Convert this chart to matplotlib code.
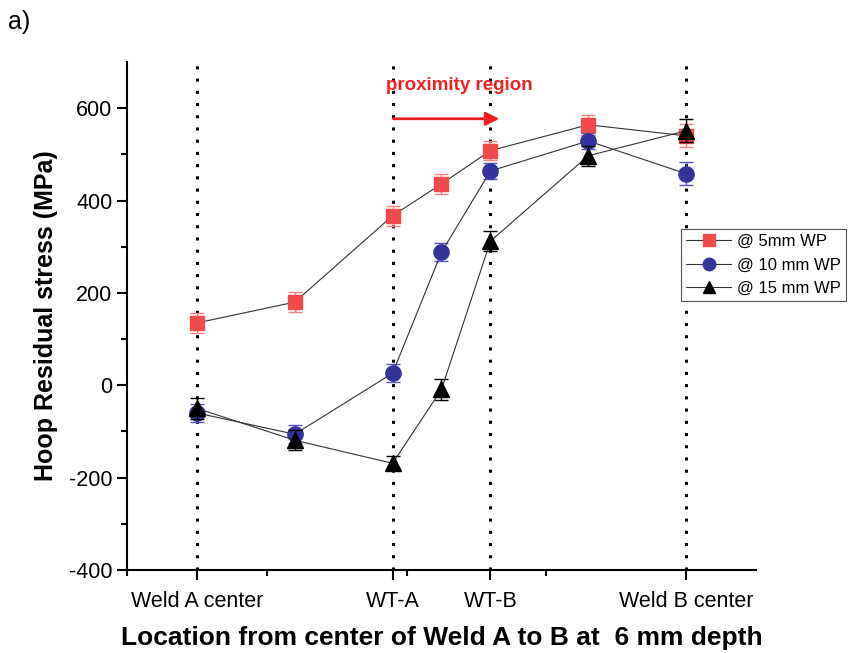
import matplotlib.pyplot as plt
from matplotlib.lines import Line2D
import numpy as np

plt.rcParams['font.family'] = ['Liberation Sans', 'DejaVu Sans']
plt.rcParams['axes.unicode_minus'] = False

# positions along the path from Weld A to Weld B
x = [0, 1, 2, 2.5, 3, 4, 5]
tick_pos = [0, 2, 3, 5]
tick_labels = ['Weld A center', 'WT-A', 'WT-B', 'Weld B center']

wp5 = [135, 180, 367, 436, 508, 564, 540]
wp5_err = [22, 22, 22, 22, 20, 22, 25]
wp10 = [-60, -106, 26, 288, 464, 529, 458]
wp10_err = [20, 20, 20, 20, 18, 18, 25]
wp15 = [-50, -119, -169, -9, 312, 497, 551]
wp15_err = [22, 22, 15, 22, 22, 22, 25]

red = '#f04a4a'
blue = '#33339a'

fig = plt.figure(figsize=(8.51, 6.53), dpi=100)
ax = fig.add_axes([0.1492, 0.1271, 0.7392, 0.778])

# vertical dotted reference lines
for p in tick_pos:
    ax.axvline(p, color='black', linestyle=(0, (1, 3)), linewidth=2.2, zorder=1)

ax.errorbar(x, wp5, yerr=wp5_err, marker='s', markersize=10, color='#333333',
            mfc=red, mec=red, ecolor='#f58080', elinewidth=1, capsize=5,
            linewidth=0.8, zorder=3)
ax.errorbar(x, wp10, yerr=wp10_err, marker='o', markersize=11, color='#333333',
            mfc=blue, mec=blue, ecolor='#5555bb', elinewidth=1, capsize=5,
            linewidth=0.8, zorder=3)
ax.errorbar(x, wp15, yerr=wp15_err, marker='^', markersize=11, color='#333333',
            mfc='black', mec='black', ecolor='black', elinewidth=1, capsize=5,
            linewidth=0.8, zorder=4)

# proximity region arrow and label
ax.annotate('', xy=(3.12, 577), xytext=(1.98, 577),
            arrowprops=dict(arrowstyle='-|>', color='#ee2222', lw=2,
                            mutation_scale=20))
ax.text(2.68, 650, 'proximity region', color='#ee2222', fontsize=13.5,
        fontweight='bold', ha='center', va='center')

ax.set_xlim(-5 / 7, 5 + 5 / 7)
ax.set_ylim(-400, 700)
ax.set_xticks(tick_pos)
ax.set_xticklabels(tick_labels, fontsize=15.5)
ax.set_xticks([-5 / 7 + k * 10 / 7 for k in range(5)], minor=True)
ax.set_yticks([-400, -200, 0, 200, 400, 600])
ax.set_yticks(np.arange(-300, 700, 200), minor=True)
ax.tick_params(axis='y', labelsize=15.5)
ax.tick_params(which='major', length=7, width=1.5, direction='out')
ax.tick_params(which='minor', length=4, width=1.5, direction='out')
ax.tick_params(axis='x', pad=8)

for s in ['top', 'right']:
    ax.spines[s].set_visible(False)
for s in ['left', 'bottom']:
    ax.spines[s].set_linewidth(1.5)

ax.set_ylabel('Hoop Residual stress (MPa)', fontsize=18, fontweight='bold',
              labelpad=8)
ax.set_xlabel('Location from center of Weld A to B at  6 mm depth',
              fontsize=19, fontweight='bold', labelpad=10)

handles = [
    Line2D([], [], color='#333333', lw=0.8, marker='s', ms=9, mfc=red, mec=red),
    Line2D([], [], color='#333333', lw=0.8, marker='o', ms=9, mfc=blue, mec=blue),
    Line2D([], [], color='#333333', lw=0.8, marker='^', ms=9, mfc='black', mec='black'),
]
leg = ax.legend(handles, ['@ 5mm WP', '@ 10 mm WP', '@ 15 mm WP'],
                loc='upper left', bbox_to_anchor=(0.881, 0.671), fontsize=12,
                frameon=True, fancybox=False, edgecolor='#555555',
                framealpha=1, borderpad=0.3, labelspacing=0.5,
                handlelength=2.7, handletextpad=0.35, borderaxespad=0)
leg.get_frame().set_linewidth(0.8)
leg.set_zorder(10)

fig.text(0.009, 0.966, 'a)', fontsize=18, ha='left', va='center')

fig.savefig('out.png', dpi=100)
